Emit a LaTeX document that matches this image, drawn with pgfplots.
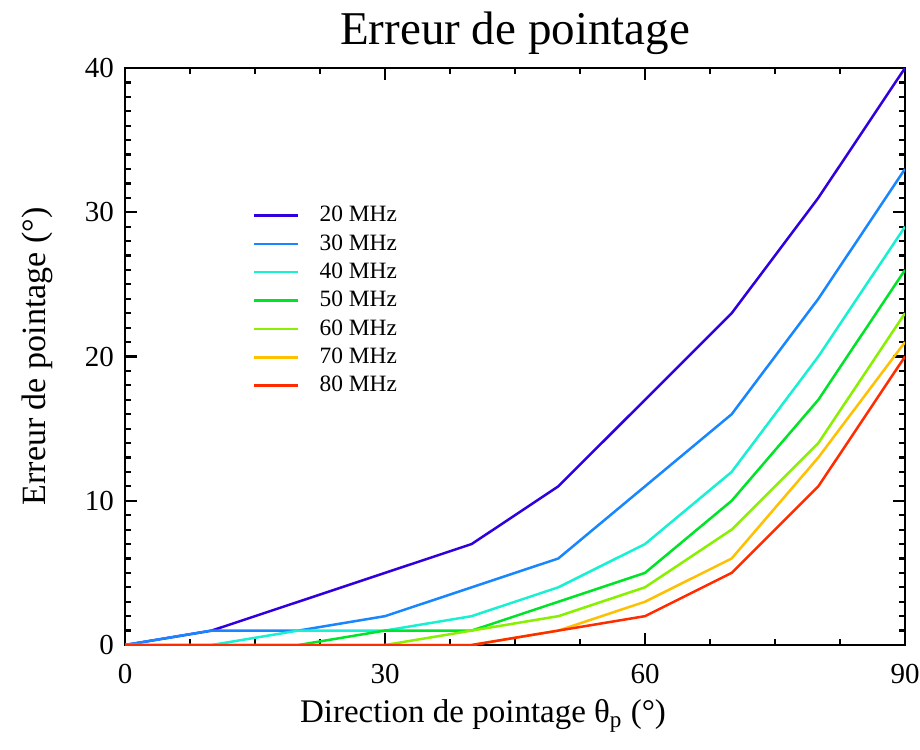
\documentclass[border=0pt]{standalone}
\usepackage{fontspec}
\setmainfont{Liberation Serif}
\usepackage{pgfplots}
\pgfplotsset{compat=1.18}
\definecolor{c20}{RGB}{48,0,222}
\definecolor{c30}{RGB}{24,134,255}
\definecolor{c40}{RGB}{24,240,210}
\definecolor{c50}{RGB}{0,228,40}
\definecolor{c60}{RGB}{136,240,0}
\definecolor{c70}{RGB}{255,192,0}
\definecolor{c80}{RGB}{255,44,0}
\begin{document}
\begin{tikzpicture}
\begin{axis}[
  scale only axis,
  width=390pt, height=288.5pt,
  xmin=0, xmax=90, ymin=0, ymax=40,
  xtick={0,30,60,90}, ytick={0,10,20,30,40},
  minor xtick={7.5,15,22.5,37.5,45,52.5,67.5,75,82.5},
  minor ytick={1,...,9,11,12,...,19,21,22,...,29,31,32,...,39},
  tick align=inside,
  major tick length=6pt, minor tick length=3pt,
  every tick/.style={black, line width=1.1pt},
  axis line style={line width=1.2pt},
  /pgf/number format/assume math mode=true,
  tick label style={font=\fontsize{14.5}{17}\selectfont},
  xticklabel style={yshift=-6pt},
  yticklabel style={xshift=-2pt},
  xlabel={Direction de pointage θ$_{\mathrm{p}}$ (°)},
  ylabel={Erreur de pointage (°)},
  xlabel style={font=\fontsize{16.5}{19}\selectfont, yshift=-1pt, xshift=-16pt},
  ylabel style={font=\fontsize{17}{20}\selectfont, yshift=9pt},
  title={Erreur de pointage},
  title style={font=\fontsize{23.5}{26}\selectfont, yshift=-3pt},
  legend style={draw=none, fill=none, at={(0.156,0.775)}, anchor=north west,
    font=\fontsize{11.7}{13}\selectfont, row sep=0.9pt},
  legend cell align=left,
  legend image code/.code={\draw[#1] (0pt,0pt) -- (22pt,0pt);},
  every axis plot/.append style={line width=1.25pt},
]
\addplot[c20] coordinates {(0,0)(10,1)(20,3)(30,5)(40,7)(50,11)(60,17)(70,23)(80,31)(90,40)};
\addlegendentry{\hspace{8pt}20 MHz}
\addplot[c30] coordinates {(0,0)(10,1)(20,1)(30,2)(40,4)(50,6)(60,11)(70,16)(80,24)(90,33)};
\addlegendentry{\hspace{8pt}30 MHz}
\addplot[c40] coordinates {(0,0)(10,0)(20,1)(30,1)(40,2)(50,4)(60,7)(70,12)(80,20)(90,29)};
\addlegendentry{\hspace{8pt}40 MHz}
\addplot[c50] coordinates {(0,0)(10,0)(20,0)(30,1)(40,1)(50,3)(60,5)(70,10)(80,17)(90,26)};
\addlegendentry{\hspace{8pt}50 MHz}
\addplot[c60] coordinates {(0,0)(10,0)(20,0)(30,0)(40,1)(50,2)(60,4)(70,8)(80,14)(90,23)};
\addlegendentry{\hspace{8pt}60 MHz}
\addplot[c70] coordinates {(0,0)(10,0)(20,0)(30,0)(40,0)(50,1)(60,3)(70,6)(80,13)(90,21)};
\addlegendentry{\hspace{8pt}70 MHz}
\addplot[c80] coordinates {(0,0)(10,0)(20,0)(30,0)(40,0)(50,1)(60,2)(70,5)(80,11)(90,20)};
\addlegendentry{\hspace{8pt}80 MHz}
\end{axis}
\pgfresetboundingbox
\path ([xshift=-62.5pt,yshift=-52pt]current axis.south west) rectangle ([xshift=7.5pt,yshift=34pt]current axis.north east);
\end{tikzpicture}
\end{document}
